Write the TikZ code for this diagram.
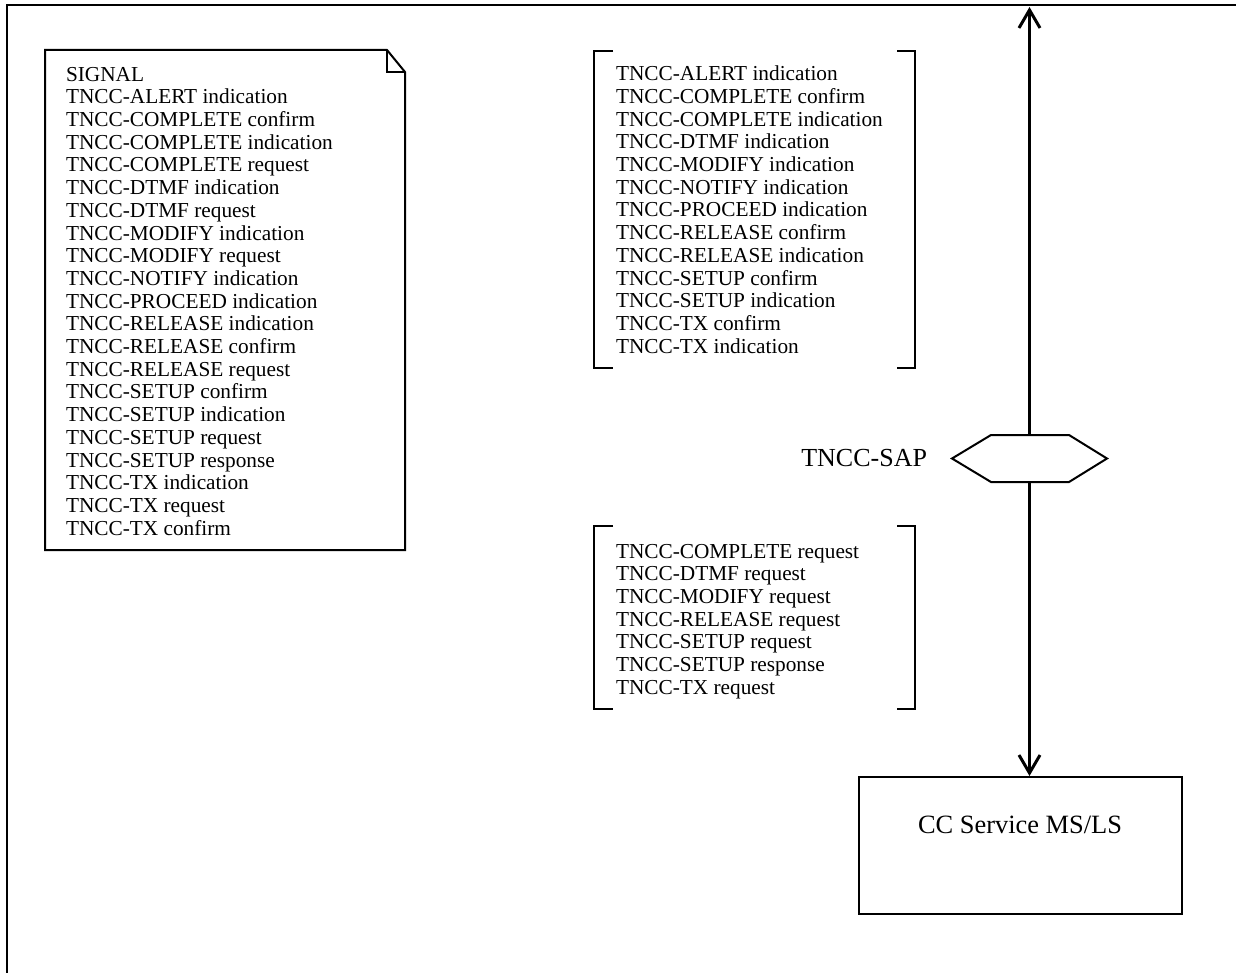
\documentclass[tikz,border=0pt]{standalone}
\usepackage{fontspec}
\setmainfont{Liberation Serif}
\usetikzlibrary{arrows.meta,positioning}

\tikzset{
	siglist/.style={align=left, inner sep=0pt, anchor=north west, font=\fontsize{10.65}{11.35}\selectfont},
	bracket/.style={line width=1pt},
	link/.style={line width=1.5pt, -{Straight Barb[length=9pt,width=10.5pt]}},
	bigtext/.style={font=\fontsize{13}{15}\selectfont, inner sep=0pt},
}

\begin{document}
\begin{tikzpicture}[x=0.5pt,y=-0.5pt,line width=1pt]
			\useasboundingbox (0,0) rectangle (1236,973);
			\draw (7,973) -- (7,5) -- (1236,5);
			% list of all signals
			\draw (45,50) -- (387,50) -- (405,72) -- (405,550) -- (45,550) -- cycle;
			\draw (387,50) -- (387,72) -- (405,72);
			\node[siglist] (signals) at (65,66) {SIGNAL\\TNCC-ALERT indication\\TNCC-COMPLETE confirm\\TNCC-COMPLETE indication\\TNCC-COMPLETE request\\TNCC-DTMF indication\\TNCC-DTMF request\\TNCC-MODIFY indication\\TNCC-MODIFY request\\TNCC-NOTIFY indication\\TNCC-PROCEED indication\\TNCC-RELEASE indication\\TNCC-RELEASE confirm\\TNCC-RELEASE request\\TNCC-SETUP confirm\\TNCC-SETUP indication\\TNCC-SETUP request\\TNCC-SETUP response\\TNCC-TX indication\\TNCC-TX request\\TNCC-TX confirm};
			% upward signals
			\node[siglist] (uplist) at (615,65) {TNCC-ALERT indication\\TNCC-COMPLETE confirm\\TNCC-COMPLETE indication\\TNCC-DTMF indication\\TNCC-MODIFY indication\\TNCC-NOTIFY indication\\TNCC-PROCEED indication\\TNCC-RELEASE confirm\\TNCC-RELEASE indication\\TNCC-SETUP confirm\\TNCC-SETUP indication\\TNCC-TX confirm\\TNCC-TX indication};
			\draw[bracket] (613,51) -- (594,51) -- (594,368) -- (613,368);
			\draw[bracket] (897,51) -- (915,51) -- (915,368) -- (897,368);
			% downward signals
			\node[siglist] (downlist) at (615,543) {TNCC-COMPLETE request\\TNCC-DTMF request\\TNCC-MODIFY request\\TNCC-RELEASE request\\TNCC-SETUP request\\TNCC-SETUP response\\TNCC-TX request};
			\draw[bracket] (613,526) -- (594,526) -- (594,709) -- (613,709);
			\draw[bracket] (897,526) -- (915,526) -- (915,709) -- (897,709);
			% SAP and service
			\node[minimum width=76.5pt, minimum height=22.5pt, inner sep=0pt] (sap) at (1029.5,458.5) {};
			\draw[fill=white] (sap.west) -- ([xshift=19.5pt]sap.north west) -- ([xshift=-19pt]sap.north east) -- (sap.east)
				-- ([xshift=-19pt]sap.south east) -- ([xshift=19.5pt]sap.south west) -- cycle;
			\node[bigtext, left=12pt of sap] (saplabel) {TNCC-SAP};
			\node[draw, minimum width=161.5pt, minimum height=68.5pt, anchor=north] (svc) at (1020.5,776) {};
			\node[bigtext, font=\fontsize{13.2}{15}\selectfont] (svclabel) at (1020,825) {CC Service MS/LS};
			\coordinate (top) at (1029.5,7);
			\draw[link] (sap.north) -- (top);
			\draw[link] (sap.south) -- (sap.south |- svc.north);
			\end{tikzpicture}
\end{document}
